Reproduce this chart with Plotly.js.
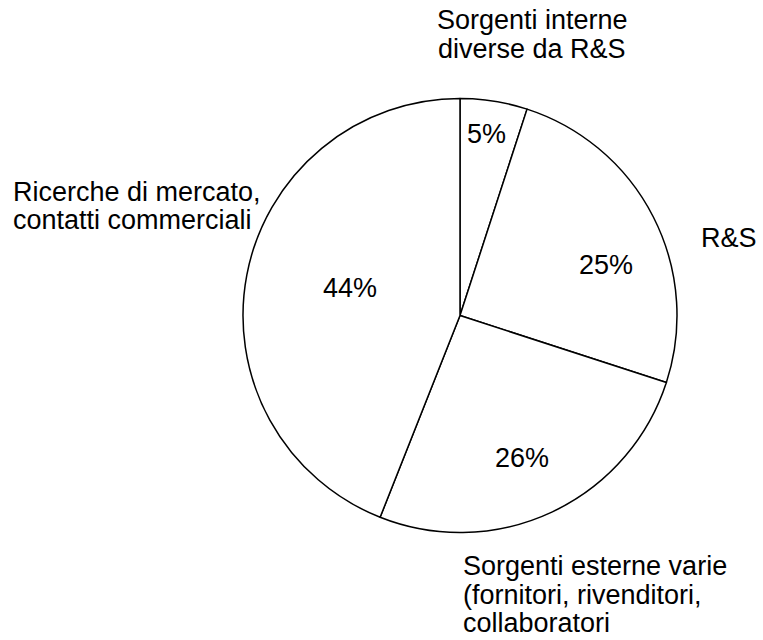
<!DOCTYPE html>
<html>
<head>
<meta charset="utf-8">
<script src="https://cdn.plot.ly/plotly-3.0.1.min.js"></script>
<style>html,body{margin:0;padding:0;background:#fff;}#chart{width:763px;height:640px;}</style>
</head>
<body>
<div id="chart"></div>
<script>
const categories = [
  "Sorgenti interne<br>diverse da R&S",
  "R&S",
  "Sorgenti esterne varie<br>(fornitori, rivenditori,<br>collaboratori",
  "Ricerche di mercato,<br>contatti commerciali"
];
const shares = [5, 25, 26, 44];

// layout positions (pixels): first-line centre of each label, and percentage text centres
const labelPos = [
  {x: 532, y: 20, xanchor: "center"},
  {x: 700, y: 238, xanchor: "left"},
  {x: 462, y: 566, xanchor: "left"},
  {x: 12, y: 192, xanchor: "left"}
];
const lineStep = 28.5;
const pctPos = [
  {x: 486, y: 134},
  {x: 606, y: 265},
  {x: 522, y: 458},
  {x: 350, y: 288}
];

const W = 763, H = 640;
const font = {family: "Liberation Sans, Arial, sans-serif", size: 27, color: "#000"};

const annotations = [];
categories.forEach((c, i) => {
  c.split("<br>").forEach((line, j) => {
    annotations.push({
      text: line, xref: "paper", yref: "paper",
      x: labelPos[i].x / W, y: 1 - (labelPos[i].y + j * lineStep) / H,
      xanchor: labelPos[i].xanchor, yanchor: "middle",
      showarrow: false, font: font, borderpad: 0
    });
  });
  annotations.push({
    text: shares[i] + "%", xref: "paper", yref: "paper",
    x: pctPos[i].x / W, y: 1 - pctPos[i].y / H,
    xanchor: "center", yanchor: "middle",
    showarrow: false, font: font, borderpad: 0
  });
});

const trace = {
  type: "pie",
  labels: categories,
  values: shares,
  sort: false,
  direction: "clockwise",
  rotation: 0,
  textinfo: "none",
  hoverinfo: "label+percent",
  marker: {colors: ["#fff", "#fff", "#fff", "#fff"], line: {color: "#000", width: 1.5}},
  domain: {x: [243 / W, 677 / W], y: [1 - 533 / H, 1 - 98 / H]}
};

const layout = {
  width: W, height: H,
  margin: {l: 0, r: 0, t: 0, b: 0},
  showlegend: false,
  paper_bgcolor: "#fff",
  font: font,
  annotations: annotations
};

Plotly.newPlot("chart", [trace], layout, {displayModeBar: false, staticPlot: true});
</script>
</body>
</html>
